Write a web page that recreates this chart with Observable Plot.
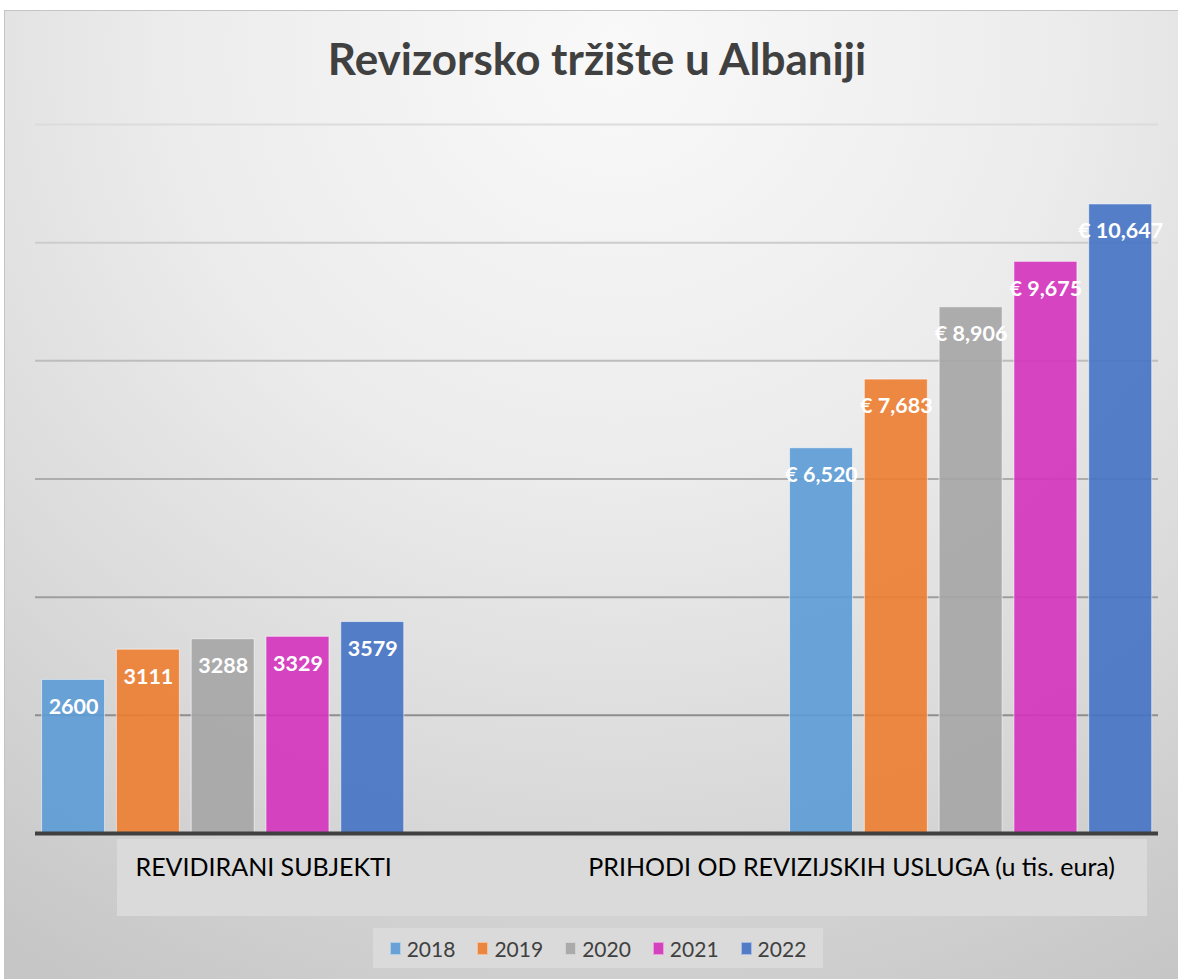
<!DOCTYPE html>
<html><head><meta charset="utf-8">
<script src="https://cdn.jsdelivr.net/npm/d3@7"></script>
<script src="https://cdn.jsdelivr.net/npm/@observablehq/plot@0.6"></script>
<style>
html,body{margin:0;padding:0;background:#fff;}
#chart{position:absolute;left:4px;top:10px;width:1174px;height:969px;border-left:1px solid #c4c4c4;border-top:1px solid #c4c4c4;
 background:radial-gradient(ellipse 95% 110% at 52% 4%, #f9f9f9 0%, #ececec 40%, #dadada 70%, #c6c6c6 100%);
 font-family:Lato,"Open Sans",sans-serif;overflow:hidden;}
#title{position:absolute;left:0;top:21px;width:100%;text-align:center;padding-left:10px;box-sizing:border-box;font-size:44px;font-weight:bold;color:#404040;}
#catbox{position:absolute;left:112px;top:828px;width:1030px;height:77px;background:#dadada;}
#plot{position:absolute;left:0;top:90px;}
#legend{position:absolute;left:368px;top:917px;width:450px;height:40px;background:#dadada;display:flex;align-items:center;justify-content:center;gap:22px;font-size:21px;color:#404040;}
#legend .it{display:flex;align-items:center;gap:6px;}
#legend .sw{width:11px;height:13px;box-sizing:border-box;border:1px solid rgba(255,255,255,0.5);}
</style></head><body>
<div id="chart">
 <div id="title">Revizorsko tržište u Albaniji</div>
 <div id="catbox"></div>
 <div id="plot"></div>
 <div id="legend"></div>
</div>
<script>
const years = ["2018", "2019", "2020", "2021", "2022"];
const categories = ["REVIDIRANI SUBJEKTI", "PRIHODI OD REVIZIJSKIH USLUGA (u tis. eura)"];
const subjektiValues = [2600, 3111, 3288, 3329, 3579];
const prihodiValues = [6520, 7683, 8906, 9675, 10647];
const colors = ["#5b9bd5", "#ed7d31", "#a5a5a5", "#d432bc", "#4472c4"];
const yTicks = [2000, 4000, 6000, 8000, 10000, 12000];
const spacers = ["s1", "s2", "s3", "s4", "s5"];

const data = [
  ...years.map((y, i) => ({cat: categories[0], year: y, key: "A" + y, value: subjektiValues[i], label: String(subjektiValues[i])})),
  ...years.map((y, i) => ({cat: categories[1], year: y, key: "B" + y, value: prihodiValues[i], label: "€ " + d3.format(",")(prihodiValues[i])}))
];
const xDomain = [...years.map(y => "A" + y), ...spacers, ...years.map(y => "B" + y)];
const gridColor = d3.scaleLinear().domain([2000, 12000]).range(["#8e8e8e", "#dcdcdc"]);

const plot = Plot.plot({
  width: 1174,
  height: 825,
  marginLeft: 36.6,
  marginRight: 27.3,
  marginTop: 23,
  marginBottom: 93,
  style: {background: "transparent", overflow: "visible"},
  x: {domain: xDomain, paddingInner: 0.158, paddingOuter: 0, round: false, axis: null},
  y: {domain: [0, 12000], axis: null},
  color: {domain: years, range: colors},
  marks: [
    Plot.ruleY(yTicks, {stroke: d => gridColor(d), strokeWidth: 2, insetLeft: -6.6, insetRight: -6.3}),
    Plot.barY(data, {x: "key", y: "value", fill: "year", fillOpacity: 0.9, stroke: "#ffffff", strokeOpacity: 0.55, strokeWidth: 1}),
    Plot.ruleY([0], {stroke: "#404040", strokeWidth: 4, insetLeft: -6.6, insetRight: -6.3}),
    Plot.text(data, {x: "key", y: "value", text: "label", dy: 27, fill: "white", fontSize: 21.5, fontWeight: "bold", fontFamily: "Lato, sans-serif"}),
    Plot.text([categories[0]], {x: () => "A2020", frameAnchor: "bottom", dy: 42, text: d => d, dx: 40.5, fontSize: 25, fill: "#000", fontFamily: "Lato, sans-serif"}),
    Plot.text([categories[1]], {x: () => "B2020", frameAnchor: "bottom", dy: 42, text: d => d, dx: -119.5, fontSize: 25, fill: "#000", fontFamily: "Lato, sans-serif"})
  ]
});
document.getElementById("plot").appendChild(plot);

const legend = document.getElementById("legend");
years.forEach((y, i) => {
  const it = document.createElement("div");
  it.className = "it";
  const sw = document.createElement("div");
  sw.className = "sw";
  sw.style.background = colors[i];
  sw.style.opacity = 0.9;
  const t = document.createElement("span");
  t.textContent = y;
  it.appendChild(sw); it.appendChild(t);
  legend.appendChild(it);
});
</script>
</body></html>
